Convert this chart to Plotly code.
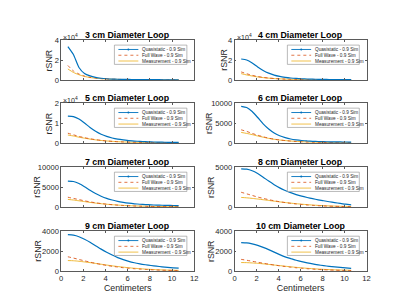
import plotly.graph_objects as go

# ---------------- data ----------------
x_cm = [0.6, 1.1, 1.6, 2.1, 2.6, 3.1, 3.6, 4.1, 4.6, 5.1, 5.6,
        6.1, 6.6, 7.1, 7.6, 8.1, 8.6, 9.1, 9.6, 10.1, 10.6]

titles = ["3 cm Diameter Loop", "4 cm Diameter Loop", "5 cm Diameter Loop",
          "6 cm Diameter Loop", "7 cm Diameter Loop", "8 cm Diameter Loop",
          "9 cm Diameter Loop", "10 cm Diameter Loop"]

series_names = ["Quasistatic - 0.9 Sim", "Full Wave - 0.9 Sim", "Measurement - 0.9 Sim"]

quasi_3cm = [33500, 25500, 12500, 6500, 4000, 2500, 1650, 1150, 850, 650, 520,
             430, 360, 300, 260, 220, 190, 170, 150, 130, 120]
full_3cm = [14500, 9000, 6000, 3800, 2600, 1800, 1300, 950, 700, 520, 400,
            320, 260, 210, 170, 140, 120, 100, 85, 70, 60]
meas_3cm = [11000, 7500, 5200, 3500, 2400, 1700, 1250, 900, 680, 520, 400,
            320, 260, 210, 180, 150, 130, 110, 95, 80, 70]

quasi_4cm = [21000, 20000, 17000, 13000, 9500, 6800, 4800, 3500, 2600, 1900, 1450,
             1150, 900, 720, 580, 480, 400, 340, 290, 250, 220]
full_4cm = [8000, 6200, 4600, 3400, 2500, 1850, 1400, 1050, 800, 620, 480,
            380, 300, 240, 190, 150, 120, 100, 80, 65, 55]
meas_4cm = [6300, 5000, 3900, 3000, 2300, 1750, 1350, 1050, 800, 630, 500,
            400, 320, 260, 210, 175, 145, 120, 100, 85, 75]

quasi_5cm = [13500, 13200, 12000, 10000, 7800, 5900, 4400, 3300, 2500, 1900, 1500,
             1200, 950, 780, 640, 530, 450, 380, 330, 290, 250]
full_5cm = [4900, 4100, 3300, 2650, 2100, 1650, 1300, 1000, 800, 630, 500,
            400, 320, 260, 210, 170, 140, 115, 95, 80, 65]
meas_5cm = [4000, 3500, 2900, 2400, 1950, 1550, 1250, 1000, 800, 640, 520,
            420, 340, 280, 230, 190, 160, 135, 115, 100, 85]

quasi_6cm = [9200, 8900, 7900, 6400, 4800, 3500, 2500, 1800, 1350, 1000, 780,
             620, 500, 420, 360, 320, 290, 270, 250, 240, 230]
full_6cm = [3300, 2900, 2400, 1950, 1550, 1200, 950, 750, 590, 470, 370,
            290, 230, 180, 145, 115, 90, 75, 60, 50, 40]
meas_6cm = [2650, 2400, 2100, 1750, 1450, 1150, 920, 740, 600, 480, 390,
            320, 260, 210, 175, 145, 120, 100, 85, 70, 60]

quasi_7cm = [6500, 6400, 5900, 5100, 4200, 3400, 2700, 2150, 1750, 1400, 1150,
             950, 800, 690, 600, 530, 470, 430, 400, 370, 350]
full_7cm = [2450, 2150, 1850, 1550, 1280, 1050, 860, 700, 570, 460, 370,
            300, 240, 195, 160, 130, 105, 85, 70, 58, 48]
meas_7cm = [1900, 1750, 1550, 1350, 1150, 970, 820, 690, 580, 480, 400,
            330, 275, 230, 190, 160, 135, 115, 100, 85, 75]

quasi_8cm = [4800, 4750, 4550, 4200, 3750, 3250, 2800, 2400, 2080, 1800, 1560,
             1360, 1190, 1040, 900, 780, 660, 550, 450, 350, 270]
full_8cm = [1850, 1650, 1450, 1250, 1080, 920, 780, 660, 550, 460, 380,
            310, 250, 200, 160, 130, 100, 80, 62, 50, 40]
meas_8cm = [1200, 1150, 1080, 1000, 910, 820, 730, 640, 560, 480, 410,
            350, 290, 240, 200, 165, 135, 110, 90, 75, 60]

quasi_9cm = [3650, 3600, 3450, 3200, 2900, 2550, 2200, 1880, 1600, 1350, 1150,
             970, 830, 720, 630, 550, 480, 420, 370, 320, 280]
full_9cm = [1430, 1300, 1160, 1020, 890, 770, 660, 560, 470, 400, 330,
            275, 230, 190, 155, 125, 100, 80, 65, 52, 42]
meas_9cm = [1050, 1030, 980, 910, 840, 760, 680, 600, 520, 450, 385,
            325, 275, 230, 190, 160, 130, 108, 90, 75, 62]

quasi_10cm = [2850, 2820, 2720, 2580, 2380, 2150, 1900, 1650, 1420, 1250, 1080,
              940, 820, 710, 620, 540, 470, 410, 360, 310, 270]
full_10cm = [1170, 1080, 980, 880, 780, 690, 600, 520, 450, 385, 325,
             275, 230, 190, 155, 125, 100, 80, 65, 52, 42]
meas_10cm = [850, 840, 810, 770, 720, 660, 600, 540, 480, 420, 365,
             315, 270, 230, 195, 165, 140, 118, 100, 85, 72]

quasi_all = [quasi_3cm, quasi_4cm, quasi_5cm, quasi_6cm, quasi_7cm, quasi_8cm, quasi_9cm, quasi_10cm]
full_all = [full_3cm, full_4cm, full_5cm, full_6cm, full_7cm, full_8cm, full_9cm, full_10cm]
meas_all = [meas_3cm, meas_4cm, meas_5cm, meas_6cm, meas_7cm, meas_8cm, meas_9cm, meas_10cm]

y_ranges = [40000, 40000, 20000, 10000, 10000, 5000, 4000, 4000]
y_tickvals = [[0, 20000, 40000], [0, 20000, 40000], [0, 10000, 20000], [0, 5000, 10000],
              [0, 5000, 10000], [0, 5000], [0, 2000, 4000], [0, 2000, 4000]]
y_ticktext = [["0", "2", "4"], ["0", "2", "4"], ["0", "1", "2"], ["0", "5000", "10000"],
              ["0", "5000", "10000"], ["0", "5000"], ["0", "2000", "4000"], ["0", "2000", "4000"]]
exponent_panel = [True, True, True, False, False, False, False, False]
x_tickvals = [0, 2, 4, 6, 8, 10, 12]

# ---------------- style ----------------
FONT = "Liberation Sans, Arial, Helvetica, sans-serif"
BLUE = "#0072BD"
ORANGE = "#D95319"
YELLOW = "#EDB120"
AXC = "#5a5a5a"
TXT = "#262626"

W, H = 400, 300
col_x = [(52, 187), (228, 362)]
row_y = [(29, 70), (94, 135), (160, 201), (226, 267)]
ylabel_x = [40, 217, 40, 202, 28, 204, 29, 204]

fig = go.Figure()
layout = dict(width=W, height=H, margin=dict(l=0, r=0, t=0, b=0),
              paper_bgcolor="white", plot_bgcolor="white", showlegend=False,
              font=dict(family=FONT, color=TXT))
shapes = []
annotations = []

for i in range(8):
    r, c = i // 2, i % 2
    k = "" if i == 0 else str(i + 1)
    xa, ya = "x" + k, "y" + k
    x0, x1 = col_x[c]
    y0, y1 = row_y[r]
    bottom = (r == 3)
    xaxis = dict(
        domain=[x0 / W, x1 / W], range=[0, 12], anchor=ya,
        tickvals=x_tickvals, showticklabels=bottom, ticks="inside", ticklen=2,
        tickcolor=AXC, tickwidth=0.6, showline=True, linecolor=AXC, linewidth=0.6,
        mirror="ticks", showgrid=False, zeroline=False,
        tickfont=dict(size=7.6, color=TXT, family=FONT))
    if bottom:
        xaxis["title"] = dict(text="Centimeters", font=dict(size=8.8, color=TXT), standoff=1)
    layout["xaxis" + k] = xaxis
    layout["yaxis" + k] = dict(
        domain=[1 - y1 / H, 1 - y0 / H], range=[0, y_ranges[i]], anchor=xa,
        tickvals=y_tickvals[i], ticktext=y_ticktext[i], ticks="inside", ticklen=2,
        tickcolor=AXC, tickwidth=0.6, showline=True, linecolor=AXC, linewidth=0.6,
        mirror="ticks", showgrid=False, zeroline=False,
        tickfont=dict(size=7.6, color=TXT, family=FONT))

    fig.add_trace(go.Scatter(x=x_cm, y=meas_all[i], mode="lines", xaxis=xa, yaxis=ya,
                             line=dict(color=YELLOW, width=0.9, shape="spline", smoothing=0.6),
                             name=series_names[2]))
    fig.add_trace(go.Scatter(x=x_cm, y=full_all[i], mode="lines", xaxis=xa, yaxis=ya,
                             line=dict(color=ORANGE, width=0.9, dash="dot", shape="spline", smoothing=0.6),
                             name=series_names[1]))
    fig.add_trace(go.Scatter(x=x_cm, y=quasi_all[i], mode="lines", xaxis=xa, yaxis=ya,
                             line=dict(color=BLUE, width=1.2, shape="spline", smoothing=0.6),
                             name=series_names[0]))

    xd, yd = xa + " domain", ya + " domain"
    # title
    annotations.append(dict(text="<b>" + titles[i] + "</b>", xref=xd, yref=yd, x=0.5, y=1,
                            xanchor="center", yanchor="bottom", showarrow=False, yshift=-2,
                            font=dict(size=8.8, color="#000000", family=FONT)))
    # y label
    annotations.append(dict(text="rSNR", xref="paper", yref=yd,
                            x=ylabel_x[i] / W, y=0.5, textangle=-90,
                            xanchor="center", yanchor="middle", showarrow=False,
                            font=dict(size=8.8, color=TXT, family=FONT)))
    if exponent_panel[i]:
        annotations.append(dict(text="×10<sup>4</sup>", xref=xd, yref=yd, x=0, y=1,
                                xanchor="left", yanchor="bottom", showarrow=False, yshift=-3,
                                font=dict(size=7, color=TXT, family=FONT)))
    # legend box
    lx0, lx1 = 0.40, 0.945
    ly0, ly1 = 0.39, 0.875
    shapes.append(dict(type="rect", xref=xd, yref=yd, x0=lx0, x1=lx1, y0=ly0, y1=ly1,
                       line=dict(color="#8c8c8c", width=0.6), fillcolor="white", layer="above"))
    entry_y = [0.765, 0.62, 0.475]
    styles = [dict(color=BLUE, width=0.9), dict(color=ORANGE, width=0.8, dash="dot"),
              dict(color=YELLOW, width=0.8)]
    for j in range(3):
        shapes.append(dict(type="line", xref=xd, yref=yd, x0=0.43, x1=0.58,
                           y0=entry_y[j], y1=entry_y[j], line=styles[j], layer="above"))
        annotations.append(dict(text=series_names[j], xref=xd, yref=yd, x=0.595, y=entry_y[j],
                                xanchor="left", yanchor="middle", showarrow=False,
                                font=dict(size=4.7, color=TXT, family=FONT)))
    shapes.append(dict(type="circle", xref=xd, yref=yd, xsizemode="pixel", ysizemode="pixel",
                       xanchor=0.505, yanchor=entry_y[0], x0=-1, x1=1, y0=-1, y1=1,
                       fillcolor=BLUE, line=dict(width=0), layer="above"))

layout["shapes"] = shapes
layout["annotations"] = annotations
fig.update_layout(**layout)
fig.write_html("out.html")
